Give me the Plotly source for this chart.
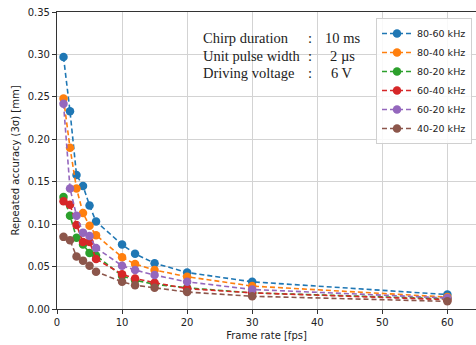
import plotly.graph_objects as go

frame_rate = [1, 2, 3, 4, 5, 6, 10, 12, 15, 20, 30, 60]

acc_80_60 = [0.297, 0.233, 0.158, 0.145, 0.122, 0.103, 0.076, 0.065, 0.054, 0.043, 0.032, 0.017]
acc_80_40 = [0.248, 0.190, 0.142, 0.113, 0.098, 0.087, 0.061, 0.053, 0.046, 0.038, 0.027, 0.014]
acc_80_20 = [0.132, 0.110, 0.084, 0.076, 0.066, 0.063, 0.039, 0.034, 0.029, 0.025, 0.019, 0.012]
acc_60_40 = [0.127, 0.123, 0.099, 0.079, 0.079, 0.059, 0.041, 0.036, 0.031, 0.024, 0.019, 0.011]
acc_60_20 = [0.242, 0.142, 0.110, 0.090, 0.086, 0.072, 0.051, 0.046, 0.040, 0.032, 0.023, 0.013]
acc_40_20 = [0.085, 0.081, 0.062, 0.057, 0.051, 0.044, 0.032, 0.028, 0.025, 0.020, 0.015, 0.009]

series_names = ["80-60 kHz", "80-40 kHz", "80-20 kHz", "60-40 kHz", "60-20 kHz", "40-20 kHz"]
series_values = [acc_80_60, acc_80_40, acc_80_20, acc_60_40, acc_60_20, acc_40_20]
colors = ["#1f77b4", "#ff7f0e", "#2ca02c", "#d62728", "#9467bd", "#8c564b"]

info_labels = ["Chirp duration", "Unit pulse width", "Driving voltage"]
info_values = ["10 ms", "2 µs", "6 V"]

W, H = 476, 345
L, R, T, B = 57, 0, 12, 36
pw, ph = W - L - R, H - T - B


def px(x):
    return (x - L) / pw


def py(y):
    return (H - B - y) / ph


fig = go.Figure()
for name, vals, c in zip(series_names, series_values, colors):
    fig.add_trace(go.Scatter(
        x=frame_rate, y=vals, name=name, mode="lines+markers",
        line=dict(color=c, width=1.6, dash="5px,3px"),
        marker=dict(color=c, size=8.5, symbol="circle"),
    ))

annotations = []
row_y = [37.7, 55.7, 73.3]
tfont = dict(family="Liberation Serif", size=14.5, color="#222")
for lab, val, yy in zip(info_labels, info_values, row_y):
    annotations.append(dict(x=px(201), y=py(yy), xref="paper", yref="paper",
                            text=lab, showarrow=False, xanchor="left", yanchor="middle",
                            font=tfont))
    annotations.append(dict(x=px(310), y=py(yy), xref="paper", yref="paper",
                            text=":", showarrow=False, xanchor="center", yanchor="middle",
                            font=tfont))
    annotations.append(dict(x=px(342), y=py(yy), xref="paper", yref="paper",
                            text=val, showarrow=False, xanchor="center", yanchor="middle",
                            font=tfont))

fig.update_layout(
    width=W, height=H,
    margin=dict(l=L, r=R, t=T, b=B, autoexpand=False),
    paper_bgcolor="white", plot_bgcolor="white",
    font=dict(family="DejaVu Sans", size=10, color="#222"),
    showlegend=True,
    legend=dict(x=px(472), y=py(18), xanchor="right", yanchor="top",
                bgcolor="rgba(255,255,255,0.85)", bordercolor="#d0d0d0", borderwidth=1,
                font=dict(family="DejaVu Sans", size=9.5, color="#222"),
                itemwidth=30, tracegroupgap=0),
    annotations=annotations,
    shapes=[dict(type="rect", xref="paper", yref="paper",
                 x0=px(195), x1=px(364), y0=py(83), y1=py(28),
                 fillcolor="white", line=dict(width=0), layer="between")],
    xaxis=dict(range=[0, 64.4], dtick=10, tick0=0, showgrid=True, gridcolor="#d3d3d3",
               gridwidth=1, zeroline=False, showline=True, linecolor="#333", linewidth=1.2,
               mirror=True, ticks="outside", ticklen=4, tickcolor="#333", automargin=False,
               title=dict(text="Frame rate [fps]", standoff=4,
                          font=dict(family="DejaVu Sans", size=10, color="#222"))),
    yaxis=dict(range=[0, 0.35], dtick=0.05, tick0=0, tickformat=".2f", showgrid=True,
               gridcolor="#d3d3d3", gridwidth=1, zeroline=False, showline=True,
               linecolor="#333", linewidth=1.2, mirror=True, ticks="outside", ticklen=4,
               tickcolor="#333", automargin=False,
               title=dict(text="Repeated accuracy (3σ) [mm]", standoff=6,
                          font=dict(family="DejaVu Sans", size=10, color="#222"))),
)

fig.write_html("out.html", config={"displayModeBar": False},
               post_script="document.body.style.margin='0';document.body.style.overflow='hidden';")
